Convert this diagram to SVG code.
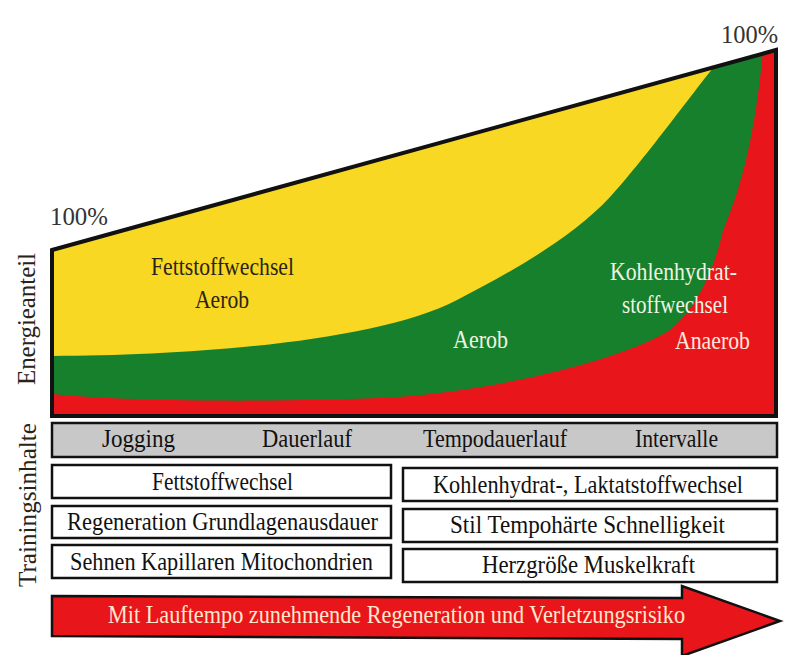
<svg xmlns="http://www.w3.org/2000/svg" width="794" height="655" viewBox="0 0 794 655">
<style>
text{font-family:"Liberation Serif","Times New Roman",Times,"DejaVu Serif",serif;font-size:25px}
.dk{fill:#2a2418}
.lt{fill:#eef4e4}
.box{fill:#ffffff;stroke:#111;stroke-width:2.5}
.band{fill:#c8c8c8;stroke:#111;stroke-width:2.5}
</style>
<defs>
<clipPath id="chartClip"><polygon points="52,250 776,50 776,416 52,416"/></clipPath>
</defs>
<rect width="794" height="655" fill="#ffffff"/>
<g id="chart">
<g clip-path="url(#chartClip)">
<rect x="40" y="40" width="760" height="390" fill="#f9d823"/>
<path id="green" fill="#17802c" d="M40,356 L52,356 C187,356 377,342 457,300 C507,274 570,240 610,197 C640,165 695,90 713,68 L740,30 L800,0 L800,430 L40,430 Z"/>
<path id="red" fill="#e8161b" d="M40,394 L52,394 C130,402 280,402 380,398 C480,394 620,362 670,330 C695,310 712,275 722,235 C730,210 752,170 763,50 L790,0 L800,0 L800,430 L40,430 Z"/>
</g>
<polygon points="52,250 776,50 776,416 52,416" fill="none" stroke="#111" stroke-width="4" stroke-linejoin="miter"/>
</g>
<g id="labels">
<text x="50" y="225" fill="#333" textLength="58" lengthAdjust="spacingAndGlyphs" font-size="25">100%</text>
<text x="721" y="43" fill="#333" textLength="57" lengthAdjust="spacingAndGlyphs" font-size="25">100%</text>
<text class="dk" x="151" y="275" textLength="143" lengthAdjust="spacingAndGlyphs" font-size="28">Fettstoffwechsel</text>
<text class="dk" x="195" y="308" textLength="54" lengthAdjust="spacingAndGlyphs" font-size="28">Aerob</text>
<text class="lt" x="453" y="348" textLength="55" lengthAdjust="spacingAndGlyphs" font-size="28">Aerob</text>
<text class="lt" x="610" y="280" textLength="127" lengthAdjust="spacingAndGlyphs" font-size="28">Kohlenhydrat-</text>
<text class="lt" x="622" y="313" textLength="106" lengthAdjust="spacingAndGlyphs" font-size="28">stoffwechsel</text>
<text x="675" y="349" fill="#ffe6dc" textLength="75" lengthAdjust="spacingAndGlyphs" font-size="28">Anaerob</text>
<text x="0" y="0" fill="#2a2418" transform="translate(35,385) rotate(-90)" textLength="132" lengthAdjust="spacingAndGlyphs" font-size="27">Energieanteil</text>
<text x="0" y="0" fill="#2a2418" transform="translate(36,587) rotate(-90)" textLength="164" lengthAdjust="spacingAndGlyphs" font-size="27">Trainingsinhalte</text>
</g>
<g id="band">
<rect class="band" x="52" y="423" width="725" height="34"/>
<text x="102" y="447" fill="#111" textLength="73" lengthAdjust="spacingAndGlyphs">Jogging</text>
<text x="262" y="447" fill="#111" textLength="90" lengthAdjust="spacingAndGlyphs">Dauerlauf</text>
<text x="423" y="447" fill="#111" textLength="144" lengthAdjust="spacingAndGlyphs">Tempodauerlauf</text>
<text x="635" y="447" fill="#111" textLength="83" lengthAdjust="spacingAndGlyphs">Intervalle</text>
</g>
<g id="boxes">
<g id="box-l1"><rect class="box" x="52" y="465" width="339" height="33"/><text x="152" y="490" fill="#111" textLength="141" lengthAdjust="spacingAndGlyphs">Fettstoffwechsel</text></g>
<g id="box-l2"><rect class="box" x="52" y="506" width="339" height="32"/><text x="67" y="530" fill="#111" textLength="311" lengthAdjust="spacingAndGlyphs">Regeneration Grundlagenausdauer</text></g>
<g id="box-l3"><rect class="box" x="52" y="545" width="339" height="33"/><text x="70" y="570" fill="#111" textLength="303" lengthAdjust="spacingAndGlyphs">Sehnen Kapillaren Mitochondrien</text></g>
<g id="box-r1"><rect class="box" x="403" y="468" width="374" height="33"/><text x="433" y="493" fill="#111" textLength="310" lengthAdjust="spacingAndGlyphs">Kohlenhydrat-, Laktatstoffwechsel</text></g>
<g id="box-r2"><rect class="box" x="403" y="509" width="374" height="33"/><text x="450" y="533" fill="#111" textLength="275" lengthAdjust="spacingAndGlyphs">Stil Tempohärte Schnelligkeit</text></g>
<g id="box-r3"><rect class="box" x="403" y="549" width="374" height="33"/><text x="482" y="573" fill="#111" textLength="213" lengthAdjust="spacingAndGlyphs">Herzgröße Muskelkraft</text></g>
</g>
<g id="arrow">
<polygon points="52,596 682,598 682,586 780,621 682,656 682,639 52,636" fill="#e8161b" stroke="#111" stroke-width="2.5" stroke-linejoin="miter"/>
<text x="108" y="623" fill="#ffe8cc" textLength="577" lengthAdjust="spacingAndGlyphs">Mit Lauftempo zunehmende Regeneration und Verletzungsrisiko</text>
</g>
</svg>
